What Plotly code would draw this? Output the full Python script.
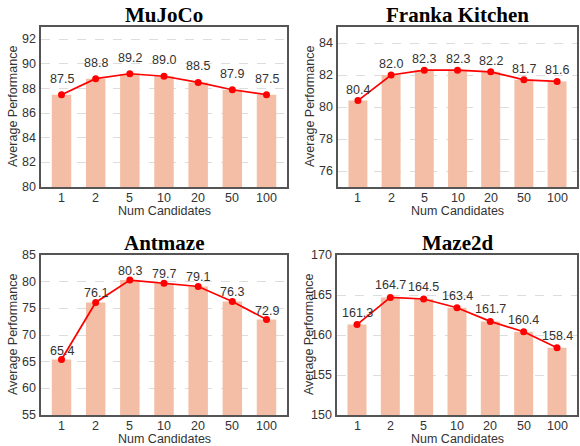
import plotly.graph_objects as go

categories = ["1", "2", "5", "10", "20", "50", "100"]
titles = ["MuJoCo", "Franka Kitchen", "Antmaze", "Maze2d"]
mujoco = [87.5, 88.8, 89.2, 89.0, 88.5, 87.9, 87.5]
franka = [80.4, 82.0, 82.3, 82.3, 82.2, 81.7, 81.6]
antmaze = [65.4, 76.1, 80.3, 79.7, 79.1, 76.3, 72.9]
maze2d = [161.3, 164.7, 164.5, 163.4, 161.7, 160.4, 158.4]
series = [mujoco, franka, antmaze, maze2d]
yranges = [[80, 93], [75, 85], [55, 85], [150, 170]]
ytickvals = [[80, 82, 84, 86, 88, 90, 92], [76, 78, 80, 82, 84],
             [55, 60, 65, 70, 75, 80, 85], [150, 155, 160, 165, 170]]

W, H = 580, 446
xdoms = [[41, 287], [338, 577], [41, 287], [337, 577]]
ydoms = [[27, 187], [27, 187], [255, 415], [255, 415]]
label_shift = [16, 11, 9, 12]

fig = go.Figure()
BAR = "#f3bea5"
FRAME = "#555555"
TICKFONT = dict(family="Liberation Sans, Arial", size=12.5, color="#333333")

for i in range(4):
    n = "" if i == 0 else str(i + 1)
    xa, ya = "x" + n, "y" + n
    vals = series[i]
    base = yranges[i][0]
    fig.add_trace(go.Bar(x=categories, y=[v - base for v in vals], base=base,
                         marker=dict(color=BAR, line=dict(width=0)), width=0.57,
                         xaxis=xa, yaxis=ya, showlegend=False))
    fig.add_trace(go.Scatter(x=categories, y=vals, mode="lines+markers",
                             line=dict(color="#ff0000", width=1.7),
                             marker=dict(color="#ff0000", size=7),
                             xaxis=xa, yaxis=ya, showlegend=False))
    for j, v in enumerate(vals):
        fig.add_annotation(x=j, y=v, xref=xa, yref=ya, text=f"{v:.1f}",
                           showarrow=False, yshift=label_shift[i], yanchor="middle",
                           xanchor="center",
                           font=dict(family="Liberation Sans, Arial", size=12.5, color="#333333"))
    x0, x1 = xdoms[i]
    y0, y1 = ydoms[i]
    fig.layout["xaxis" + n] = dict(domain=[x0 / W, x1 / W], anchor=ya, type="category",
                                   categoryorder="array", categoryarray=categories,
                                   range=[-0.6, 6.6], showticklabels=False,
                                   showline=True, linecolor=FRAME, linewidth=1.5, mirror=True,
                                   ticks="", showgrid=False)
    fig.layout["yaxis" + n] = dict(domain=[1 - y1 / H, 1 - y0 / H], anchor=xa,
                                   range=yranges[i], tickvals=ytickvals[i],
                                   showticklabels=False,
                                   showline=True, linecolor=FRAME, linewidth=1.5, mirror=True,
                                   ticks="", showgrid=True,
                                   gridcolor="#dddddd", griddash="dash", gridwidth=1,
                                   zeroline=False)
    # y tick labels drawn as text at the tick values
    for t in ytickvals[i]:
        fig.add_annotation(x=0, y=t, xref="x" + n + " domain", yref=ya, text=str(t),
                           showarrow=False, xanchor="right", yanchor="middle", xshift=-3,
                           font=TICKFONT)
    # x tick labels drawn as text at the categories
    for j, c in enumerate(categories):
        fig.add_annotation(x=j, y=0, xref=xa, yref="y" + n + " domain", text=c,
                           showarrow=False, xanchor="center", yanchor="middle", yshift=-11,
                           font=TICKFONT)
    xc = (x0 + x1) / 2
    fig.add_annotation(x=xc / W, y=1 - (y0 - 12) / H, xref="paper", yref="paper",
                       text=f"<b>{titles[i]}</b>", showarrow=False, yanchor="middle",
                       xanchor="center",
                       font=dict(family="Liberation Serif, Times New Roman", size=21, color="#000000"))
    fig.add_annotation(x=xc / W, y=1 - (y1 + 24) / H, xref="paper", yref="paper",
                       text="Num Candidates", showarrow=False, yanchor="middle",
                       xanchor="center", font=TICKFONT)
    yc = (y0 + y1) / 2
    fig.add_annotation(x=(x0 - 28) / W, y=1 - yc / H, xref="paper", yref="paper",
                       text="Average Performance", textangle=-90, showarrow=False,
                       xanchor="center", yanchor="middle", font=TICKFONT)

fig.update_layout(width=W, height=H, margin=dict(l=0, r=0, t=0, b=0),
                  plot_bgcolor="white", paper_bgcolor="white", bargap=0.4)
fig.write_html("out.html")
